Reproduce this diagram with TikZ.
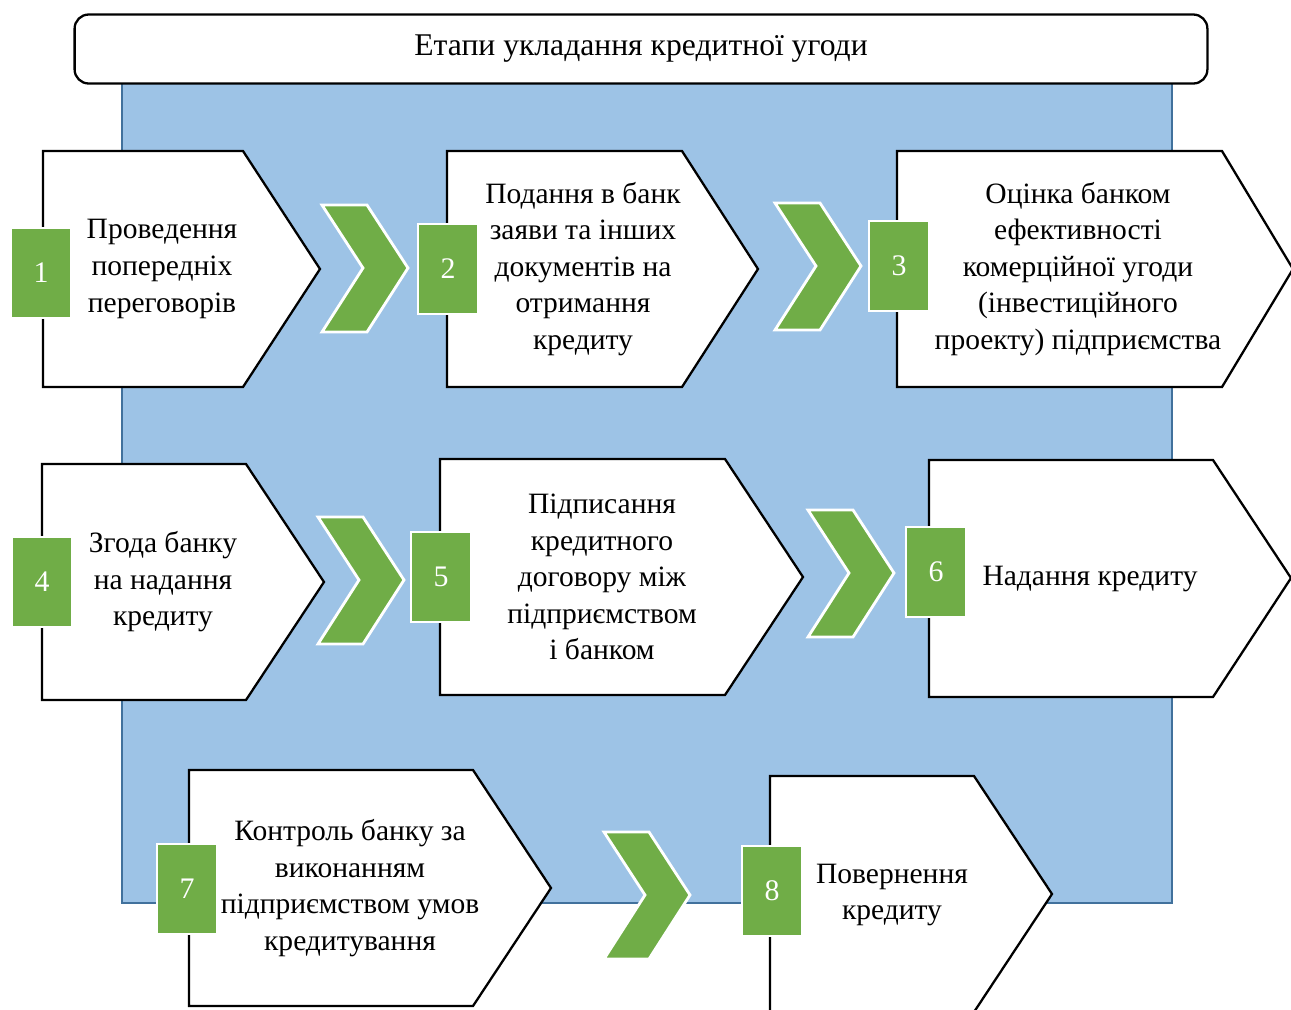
\documentclass[tikz,border=0pt]{standalone}
\usepackage{fontspec}
\setmainfont{Liberation Serif}
\usetikzlibrary{positioning}

\definecolor{panelblue}{HTML}{9DC3E6}
\definecolor{paneledge}{HTML}{41719C}
\definecolor{stepgreen}{HTML}{70AD47}

% chevron between two stages, given by its top left corner
\newcommand{\chevron}[2]{%
    \draw[chev] (#1,#2) -- ++(45,0) -- ++(41,63) -- ++(-41,64) -- ++(-45,0) -- ++(41,-64) -- cycle;}

\begin{document}
\begin{tikzpicture}[
            x = 0.02cm, % one unit is one pixel of the layout
            y = -0.02cm,
            stageline/.style = {draw = black, line width = 1.3pt, fill = white},
            chev/.style = {draw = white, line width = 1.6pt, fill = stepgreen},
            badge/.style = {
                draw = white, line width = 1.2pt, fill = stepgreen,
                text = white, minimum width = 1.2cm, minimum height = 1.8cm,
                inner sep = 0pt, font = \fontsize{17}{20}\selectfont
            },
            stagetext/.style = {align = center, inner sep = 0pt,
                font = \fontsize{16.8}{20.8}\selectfont}
        ]

    \useasboundingbox (0,0) rectangle (1291,1009);
    \clip (0,0) rectangle (1291,1009);

    % background panel and title
    \draw[fill = panelblue, draw = paneledge, line width = 1pt] (122,70) rectangle (1172,903);
    \node[draw = black, line width = 1.3pt, fill = white, rounded corners = 8pt,
          minimum width = 22.66cm, minimum height = 1.38cm,
          font = \fontsize{18}{21}\selectfont] (title) at (641,49) {Етапи укладання кредитної угоди};

    % stages
    \draw[stageline] (43,151) -- (243,151) -- (320,269) -- (243,387) -- (43,387) -- cycle;
    \draw[stageline] (447,151) -- (682,151) -- (758,269) -- (682,387) -- (447,387) -- cycle;
    \draw[stageline] (897,151) -- (1222,151) -- (1293,269) -- (1222,387) -- (897,387) -- cycle;
    \draw[stageline] (42,464) -- (246,464) -- (324,582) -- (246,700) -- (42,700) -- cycle;
    \draw[stageline] (440,459) -- (725,459) -- (803,577) -- (725,695) -- (440,695) -- cycle;
    \draw[stageline] (929,460) -- (1213,460) -- (1291,578) -- (1213,697) -- (929,697) -- cycle;
    \draw[stageline] (189,770) -- (473,770) -- (551,888) -- (473,1006) -- (189,1006) -- cycle;
    \draw[stageline] (770,776) -- (974,776) -- (1052,894) -- (974,1012) -- (770,1012) -- cycle;

    % arrows between stages
    \chevron{322}{205}
    \chevron{775}{203}
    \chevron{318}{517}
    \chevron{808}{510}
    \chevron{604}{832}

    % numbers
    \node[badge] (b1) at (41,273) {1};
    \node[badge] (b2) at (448,269) {2};
    \node[badge] (b3) at (899,266) {3};
    \node[badge] (b4) at (42,582) {4};
    \node[badge] (b5) at (441,577) {5};
    \node[badge] (b6) at (936,572) {6};
    \node[badge] (b7) at (187,889) {7};
    \node[badge] (b8) at (772,891) {8};

    % texts
    \node[stagetext] (t1) at (162,269) {Проведення\\попередніх\\переговорів};
    \node[stagetext] (t2) at (583,269) {Подання в банк\\заяви та інших\\документів на\\отримання\\кредиту};
    \node[stagetext] (t3) at (1078,269) {Оцінка банком\\ефективності\\комерційної угоди\\(інвестиційного\\проекту) підприємства};
    \node[stagetext] (t4) at (163,582) {Згода банку\\на надання\\кредиту};
    \node[stagetext] (t5) at (602,577) {Підписання\\кредитного\\договору між\\підприємством\\і банком};
    \node[stagetext] (t6) at (1090,579) {Надання кредиту};
    \node[stagetext] (t7) at (350,888) {Контроль банку за\\виконанням\\підприємством умов\\кредитування};
    \node[stagetext] (t8) at (892,895) {Повернення\\кредиту};

\end{tikzpicture}
\end{document}
